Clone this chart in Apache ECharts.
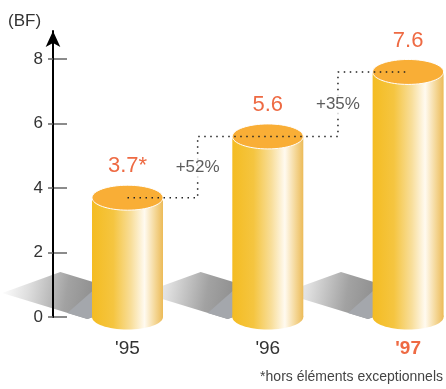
<!DOCTYPE html>
<html><head><meta charset="utf-8">
<script src="https://cdn.jsdelivr.net/npm/echarts@6/dist/echarts.min.js"></script>
<style>html,body{margin:0;padding:0;background:#fff;}#c{width:446px;height:389px;}</style>
</head><body><div id="c"></div>
<script>
// ---- data ----
const categories = ["'95", "'96", "'97"];
const values = [3.7, 5.6, 7.6];
const valueLabels = ['3.7*', '5.6', '7.6'];
const growthLabels = ['+52%', '+35%'];
const yTicks = [0, 2, 4, 6, 8];
const unitLabel = '(BF)';
const footnote = '*hors éléments exceptionnels';

// ---- style ----
const FONT = "'Liberation Sans Narrow', 'Liberation Sans', sans-serif";
const ORANGE = '#EE6A43';
const TEXT = '#333';
const highlightIndex = 2;

const chart = echarts.init(document.getElementById('c'), null, {renderer: 'canvas'});

const barData = values.map((v, i) => [i, v]);
const growthData = growthLabels.map((g, i) => [i + 0.5, (values[i] + values[i + 1]) / 2]);

function shadowItem(params, api) {
  const base = api.coord([api.value(0), 0]);
  const k = api.size([1, 0])[0] / 140;
  const cx = base[0], by = base[1];
  const pt = (dx, dy) => [cx + dx * k, by + dy * k];
  return {
    type: 'group',
    children: [
      {
        type: 'polygon',
        shape: {points: [pt(-125, -24), pt(-67, -45), pt(18, -19), pt(-40, 2)]},
        style: {fill: {type: 'linear', x: 0, y: 0.2, x2: 0.75, y2: 0.6, colorStops: [
          {offset: 0, color: 'rgba(255,255,255,1)'},
          {offset: 0.25, color: '#dedede'},
          {offset: 0.6, color: '#a2a2a2'},
          {offset: 1, color: '#848484'}
        ]}}
      },
      {
        type: 'polygon',
        shape: {points: [pt(-60, -4), pt(-35, -26), pt(0, -22), pt(0, -12.5), pt(-40, 2)]},
        style: {fill: '#a4a7ac'}
      }
    ]
  };
}

function cylItem(params, api) {
  const top = api.coord([api.value(0), api.value(1)]);
  const base = api.coord([api.value(0), 0]);
  const unit = api.size([1, 0])[0];
  const r = unit * 0.253, ry = unit * 0.089;
  const side = {type: 'linear', x: 0, y: 0, x2: 1, y2: 0, colorStops: [
    {offset: 0, color: '#F4BC22'},
    {offset: 0.3, color: '#F5C540'},
    {offset: 0.55, color: '#F8DE9A'},
    {offset: 0.74, color: '#FFFAF0'},
    {offset: 0.88, color: '#F5D99C'},
    {offset: 1, color: '#ECBB58'}
  ]};
  return {
    type: 'group',
    children: [
      {type: 'rect', shape: {x: top[0] - r, y: top[1], width: 2 * r, height: base[1] - top[1]}, style: {fill: side}},
      {type: 'ellipse', shape: {cx: base[0], cy: base[1], rx: r, ry: ry}, style: {fill: side}},
      {type: 'ellipse', shape: {cx: top[0], cy: top[1], rx: r, ry: ry}, style: {fill: '#F9AE36', stroke: '#fff', lineWidth: 1}},
      {type: 'text', style: {text: valueLabels[params.dataIndex], x: top[0], y: top[1] - ry - 8,
        align: 'center', verticalAlign: 'bottom', fill: ORANGE, fontSize: 22, fontFamily: FONT}}
    ]
  };
}

const option = {
  backgroundColor: '#fff',
  animation: false,
  grid: {left: 53, right: 0, top: 31, bottom: 72, containLabel: false},
  xAxis: {
    type: 'value', min: -0.531, max: 2.27,
    axisLine: {show: false, onZero: false}, axisTick: {show: false}, splitLine: {show: false},
    axisLabel: {
      customValues: [0, 1, 2], margin: 22, color: TEXT, fontSize: 19, fontFamily: FONT,
      formatter: v => {
        const i = Math.round(v);
        return i === highlightIndex ? '{hl|' + categories[i] + '}' : categories[i];
      },
      rich: {hl: {color: ORANGE, fontWeight: 'bold', fontSize: 19, fontFamily: FONT}}
    }
  },
  yAxis: [{
    type: 'value', min: 0, max: 8.87, position: 'left', z: 10,
    axisLine: {show: true, onZero: false, lineStyle: {color: '#000', width: 2}, symbol: ['none', 'arrow'], symbolSize: [11, 16]},
    axisTick: {show: true, length: 5, customValues: yTicks, lineStyle: {color: '#666', width: 1.5}},
    axisLabel: {customValues: yTicks, color: TEXT, fontSize: 17, fontFamily: FONT, margin: 10},
    splitLine: {show: false}
  }, {
    type: 'value', min: 0, max: 8.87, position: 'left', offset: 0, z: 9,
    axisLine: {show: false, onZero: false},
    axisTick: {show: true, inside: true, length: 14, customValues: yTicks, lineStyle: {color: '#666', width: 1.5}},
    axisLabel: {show: false}, splitLine: {show: false}
  }],
  graphic: [
    {type: 'text', left: 8, top: 13, style: {text: unitLabel, fill: TEXT, fontSize: 17, fontFamily: FONT}},
    {type: 'text', right: 3, top: 370, style: {text: footnote, fill: '#444', fontSize: 14, fontFamily: FONT}}
  ],
  series: [
    {type: 'custom', name: 'shadow', z: 1, data: barData, renderItem: shadowItem, silent: true},
    {type: 'custom', name: 'cyl', z: 3, data: barData, renderItem: cylItem, silent: true},
    {type: 'line', z: 4, data: barData, step: 'middle', showSymbol: false, symbol: 'none',
      lineStyle: {color: '#222', width: 1.5, type: [1.5, 4.5]}},
    {type: 'scatter', z: 5, data: growthData, symbolSize: 0,
      label: {show: true, position: 'inside', formatter: p => growthLabels[p.dataIndex],
        color: TEXT, fontSize: 17, fontFamily: FONT, backgroundColor: '#fff', padding: [3, 1]}}
  ]
};
chart.setOption(option);
</script>
</body></html>
